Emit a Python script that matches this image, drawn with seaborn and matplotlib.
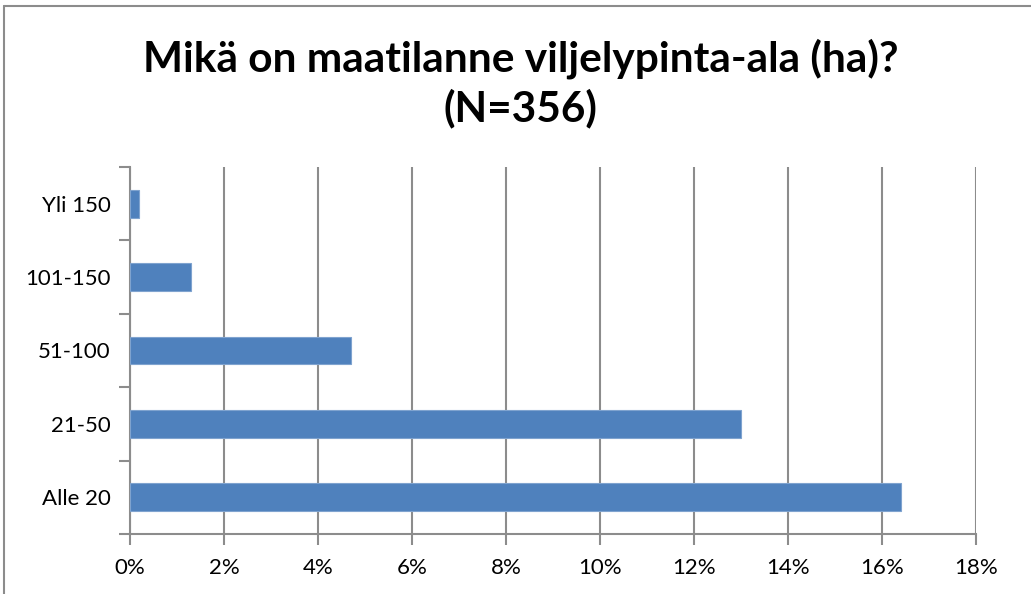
import matplotlib
matplotlib.use("Agg")
import matplotlib.pyplot as plt
import matplotlib.ticker as mticker
from matplotlib.lines import Line2D
import seaborn as sns
import pandas as pd

luokat = ["Yli 150", "101-150", "51-100", "21-50", "Alle 20"]
osuudet = [0.2, 1.3, 4.7, 13.0, 16.4]
x_ticks = [0, 2, 4, 6, 8, 10, 12, 14, 16, 18]
otsikko = "Mikä on maatilanne viljelypinta-ala (ha)?\n(N=356)"

df = pd.DataFrame({"luokka": luokat, "osuus": osuudet})

sns.set_theme(style="white")
plt.rcParams["font.family"] = ["Lato", "DejaVu Sans"]

fig = plt.figure(figsize=(10.31, 5.94), dpi=100)
ax = fig.add_axes([130 / 1031, 1 - 534 / 594, 846 / 1031, 367 / 594])

sns.barplot(data=df, x="osuus", y="luokka", order=luokat, orient="h",
            color="#4F81BD", saturation=1, width=0.38, ax=ax, zorder=3,
            edgecolor="#7FA3CF", linewidth=0.8)

harmaa = "#8C8C8C"
ax.set_xlim(0, 18)
ax.set_ylim(4.5, -0.5)
ax.set_xticks(x_ticks)
ax.xaxis.set_major_formatter(mticker.FuncFormatter(lambda v, p: f"{int(v)}%"))
ax.grid(axis="x", color=harmaa, linewidth=1.5, zorder=0)
ax.set_axisbelow(True)

# kategoria-akselin rajamerkit
ax.set_yticks(range(len(luokat)))
ax.set_yticks([i - 0.5 for i in range(len(luokat) + 1)], minor=True)
ax.tick_params(axis="y", which="major", length=0, pad=14, labelsize=16, labelcolor="black")
ax.tick_params(axis="y", which="minor", length=8, width=1.5, color=harmaa, left=True)
ax.tick_params(axis="x", which="major", length=8, width=1.5, color=harmaa,
               bottom=True, pad=9, labelsize=16, labelcolor="black")

for side in ["top", "right"]:
    ax.spines[side].set_visible(False)
for side in ["left", "bottom"]:
    ax.spines[side].set_color(harmaa)
    ax.spines[side].set_linewidth(1.5)

ax.set_xlabel("")
ax.set_ylabel("")

fig.text(0.505, 1 - 83 / 594, otsikko, ha="center", va="center", color="black",
         fontsize=30.5, fontweight="bold", linespacing=1.28)

# kaavion kehys (vain ylä- ja vasen reuna näkyvät)
fig.add_artist(Line2D([3.5 / 1031, 3.5 / 1031], [0, 1 - 6 / 594], transform=fig.transFigure,
                      color=harmaa, linewidth=1.5))
fig.add_artist(Line2D([3.5 / 1031, 1], [1 - 6 / 594, 1 - 6 / 594], transform=fig.transFigure,
                      color=harmaa, linewidth=1.5))

plt.savefig("out.png", dpi=100)
